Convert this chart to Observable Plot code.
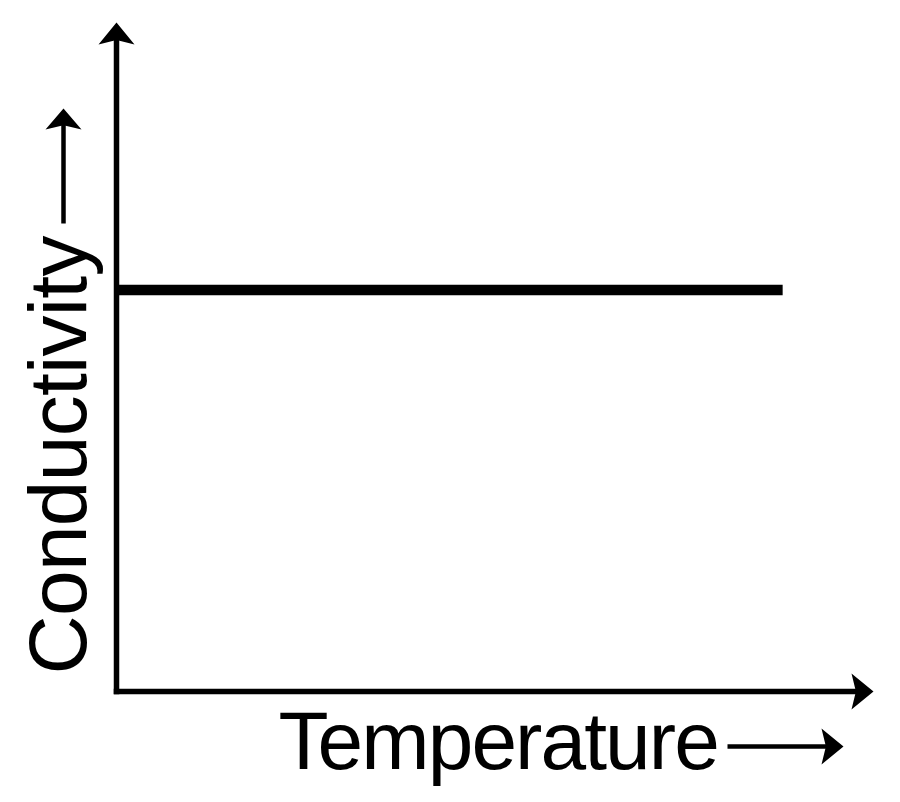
<!DOCTYPE html>
<html><head><meta charset="utf-8">
<script src="https://cdn.jsdelivr.net/npm/d3@7"></script>
<script src="https://cdn.jsdelivr.net/npm/@observablehq/plot@0.6"></script>
<style>body{margin:0;background:#fff}</style>
</head><body><div id="chart"></div>
<script>
// Data
const temperature = [0, 8.8];
const conductivity = [6, 6];
const xDomain = [0, 10];
const yDomain = [0, 10];
const xLabel = "Temperature";
const yLabel = "Conductivity";

const series = temperature.map((t, i) => ({t, c: conductivity[i]}));
const axes = [
  {x1: xDomain[0], y1: yDomain[0], x2: xDomain[1], y2: yDomain[0], angle: 90},
  {x1: xDomain[0], y1: yDomain[0], x2: xDomain[0], y2: yDomain[1], angle: 0}
];

const HW = 18, NOTCH = 0.8;
const arrowHead = {
  draw(ctx, l) {
    ctx.moveTo(0, -l);
    ctx.lineTo(HW, 0);
    ctx.lineTo(0, -l * (1 - NOTCH));
    ctx.lineTo(-HW, 0);
    ctx.closePath();
  }
};
const shaft = {draw(ctx, l) { ctx.moveTo(0, 0); ctx.lineTo(0, -l); }};

const font = "Liberation Sans, Arial, sans-serif";

const chart = Plot.plot({
  width: 900,
  height: 802,
  marginLeft: 116,
  marginRight: 27,
  marginTop: 22,
  marginBottom: 111,
  style: {background: "white", color: "black"},
  x: {domain: xDomain, axis: null},
  y: {domain: yDomain, axis: null},
  marks: [
    // axes lines
    Plot.arrow(axes, {x1: "x1", y1: "y1", x2: "x2", y2: "y2", headLength: 0, insetEnd: 12,
      stroke: "black", strokeWidth: 5.5, strokeLinecap: "square"}),
    // axes heads
    Plot.vector(axes, {x: "x2", y: "y2", rotate: "angle", length: 22, anchor: "end",
      shape: arrowHead, fill: "black", stroke: "none"}),
    // data line
    Plot.line(series, {x: "t", y: "c", stroke: "black", strokeWidth: 10.5, strokeLinecap: "butt"}),
    // x label
    Plot.text([xLabel], {frameAnchor: "bottom-left", dx: 162, dy: 50.8, text: d => d,
      textAnchor: "start", lineAnchor: "middle", fontSize: 82, fontFamily: font, fill: "black"}),
    Plot.vector([xLabel], {frameAnchor: "bottom-left", dx: 611, dy: 55, rotate: 90, length: 106,
      anchor: "start", shape: shaft, stroke: "black", strokeWidth: 4.5, strokeLinecap: "butt"}),
    Plot.vector([xLabel], {frameAnchor: "bottom-left", dx: 727, dy: 55, rotate: 90, length: 22,
      anchor: "end", shape: arrowHead, fill: "black", stroke: "none"}),
    // y label
    Plot.text([yLabel], {frameAnchor: "bottom-left", dx: -57.2, dy: -17, text: d => d, rotate: -90,
      textAnchor: "start", lineAnchor: "middle", fontSize: 82, fontFamily: font, fill: "black"}),
    Plot.vector([yLabel], {frameAnchor: "bottom-left", dx: -53, dy: -468, rotate: 0, length: 106,
      anchor: "start", shape: shaft, stroke: "black", strokeWidth: 4.5, strokeLinecap: "butt"}),
    Plot.vector([yLabel], {frameAnchor: "bottom-left", dx: -53, dy: -583, rotate: 0, length: 21,
      anchor: "end", shape: arrowHead, fill: "black", stroke: "none"})
  ]
});
chart.querySelectorAll("text").forEach(t => {
  if (t.textContent === xLabel) t.setAttribute("letter-spacing", "-1.9");
  if (t.textContent === yLabel) t.setAttribute("letter-spacing", "-0.7");
});
document.getElementById("chart").appendChild(chart);
</script>
</body></html>
